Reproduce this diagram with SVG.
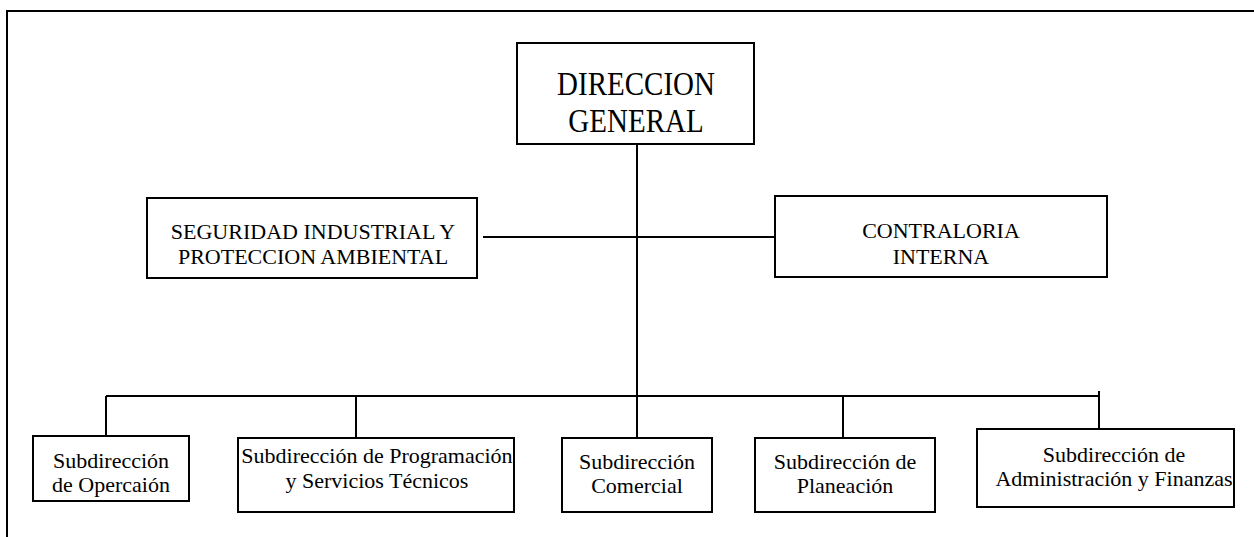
<svg xmlns="http://www.w3.org/2000/svg" width="1254" height="537" viewBox="0 0 1254 537">
<style>
  .box { fill: #fff; stroke: #000; stroke-width: 2; }
  .ln { stroke: #000; stroke-width: 2; fill: none; }
  .t { font-family: "Liberation Serif", "Times New Roman", serif; font-size: 22px; fill: #000; text-anchor: middle; }
  .tb { font-family: "Liberation Serif", "Times New Roman", serif; font-size: 29px; fill: #000; text-anchor: middle; }
</style>
<rect x="0" y="0" width="1254" height="537" fill="#fff"/>
<g id="frame">
  <path class="ln" d="M7,537 V11 H1254"/>
</g>
<g id="connectors">
  <path class="ln" d="M637,144 V396"/>
  <path class="ln" d="M483,237 H775"/>
  <path class="ln" d="M106,396 H1099"/>
  <path class="ln" d="M106,396 V436"/>
  <path class="ln" d="M356,396 V438"/>
  <path class="ln" d="M637,396 V438"/>
  <path class="ln" d="M843,396 V438"/>
  <path class="ln" d="M1099,391 V429"/>
</g>
<g id="direccion-general">
  <rect class="box" x="517" y="43" width="237" height="101"/>
  <text class="tb" transform="translate(636,95) scale(1,1.15)">DIRECCION</text>
  <text class="tb" transform="translate(636,132) scale(1,1.15)">GENERAL</text>
</g>
<g id="seguridad">
  <rect class="box" x="147" y="198" width="330" height="80"/>
  <text class="t" x="313" y="239">SEGURIDAD INDUSTRIAL Y</text>
  <text class="t" x="313" y="264">PROTECCION AMBIENTAL</text>
</g>
<g id="contraloria">
  <rect class="box" x="775" y="196" width="332" height="81"/>
  <text class="t" x="941" y="238">CONTRALORIA</text>
  <text class="t" x="941" y="264">INTERNA</text>
</g>
<g id="sub-operacion">
  <rect class="box" x="33" y="436" width="156" height="65"/>
  <text class="t" x="111" y="468">Subdirección</text>
  <text class="t" x="111" y="492">de Opercaión</text>
</g>
<g id="sub-programacion">
  <rect class="box" x="238" y="438" width="276" height="74"/>
  <text class="t" x="377" y="463">Subdirección de Programación</text>
  <text class="t" x="377" y="488">y Servicios Técnicos</text>
</g>
<g id="sub-comercial">
  <rect class="box" x="562" y="438" width="150" height="74"/>
  <text class="t" x="637" y="469">Subdirección</text>
  <text class="t" x="637" y="493">Comercial</text>
</g>
<g id="sub-planeacion">
  <rect class="box" x="755" y="438" width="180" height="74"/>
  <text class="t" x="845" y="469">Subdirección de</text>
  <text class="t" x="845" y="493">Planeación</text>
</g>
<g id="sub-administracion">
  <rect class="box" x="977" y="429" width="257" height="78"/>
  <text class="t" x="1114" y="462">Subdirección de</text>
  <text class="t" x="1114" y="486">Administración y Finanzas</text>
</g>
</svg>
